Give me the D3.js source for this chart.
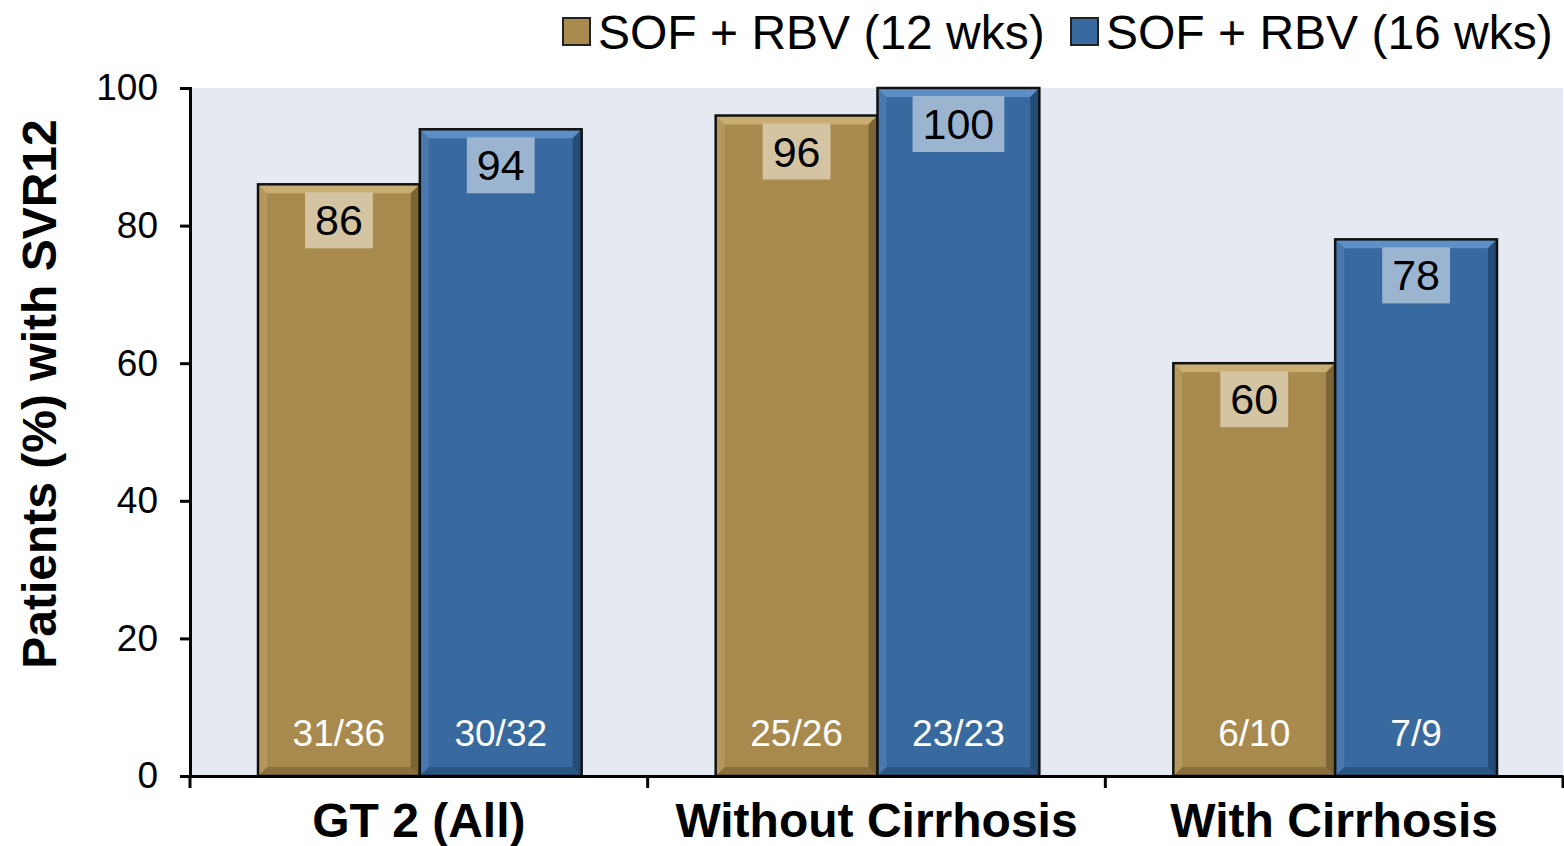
<!DOCTYPE html>
<html>
<head>
<meta charset="utf-8">
<script src="https://cdn.jsdelivr.net/npm/d3@7"></script>
<style>
  body { margin: 0; background: #fff; }
  text { font-family: "Liberation Sans", Arial, sans-serif; }
</style>
</head>
<body>
<svg id="chart" width="1564" height="846"></svg>
<script>
var categories = ["GT 2 (All)", "Without Cirrhosis", "With Cirrhosis"];
var seriesNames = ["SOF + RBV (12 wks)", "SOF + RBV (16 wks)"];
var svr12wk = [86, 96, 60];
var svr16wk = [94, 100, 78];
var n12wk = ["31/36", "25/26", "6/10"];
var n16wk = ["30/32", "23/23", "7/9"];
var yTicks = [0, 20, 40, 60, 80, 100];

var colors = ["#a88a4e", "#396a9f"];
var lightColors = ["#c9ad72", "#5e8fc6"];
var darkColors = ["#6f5a30", "#21446d"];
var boxColors = ["#d4c4a2", "#9bb4cf"];

var svg = d3.select("#chart"),
    margin = { top: 88, right: 1, bottom: 70, left: 190 },
    width = +svg.attr("width") - margin.left - margin.right,
    height = +svg.attr("height") - margin.top - margin.bottom,
    g = svg.append("g").attr("transform", "translate(" + margin.left + "," + margin.top + ")");

var data = categories.map(function (c, i) {
    return { cat: c, values: [
        { s: 0, v: svr12wk[i], n: n12wk[i] },
        { s: 1, v: svr16wk[i], n: n16wk[i] }
    ] };
});

var x0 = d3.scaleBand().domain(categories).range([0, width]).paddingInner(0).paddingOuter(0);
var x1 = d3.scaleBand().domain([0, 1]).range([68, x0.bandwidth() - 66]).padding(0);
var y = d3.scaleLinear().domain([0, 100]).range([height, 0]);

// plot background
g.append("rect")
    .attr("width", width)
    .attr("height", height)
    .attr("fill", "#e4e9f2");

// y axis
g.append("g")
    .call(d3.axisLeft(y).tickValues(yTicks).tickSize(10).tickPadding(22))
    .call(g => g.select(".domain").attr("stroke", "#000").attr("stroke-width", 3))
    .call(g => g.selectAll(".tick line").attr("stroke", "#000").attr("stroke-width", 3))
    .call(g => g.selectAll(".tick text")
        .attr("font-size", 37)
        .attr("fill", "#000")
        .attr("font-family", "Liberation Sans, Arial, sans-serif"));

// bars
var group = g.selectAll(".grp")
    .data(data)
    .enter().append("g")
    .attr("class", "grp")
    .attr("transform", d => "translate(" + x0(d.cat) + ",0)");

var bar = group.selectAll(".bar")
    .data(d => d.values)
    .enter().append("g")
    .attr("class", "bar");

var bv = 9; // bevel size

bar.each(function (d) {
    var b = d3.select(this);
    var x = x1(d.s), w = x1.bandwidth(), top = y(d.v), bot = y(0), h = bot - top;
    b.append("rect")
        .attr("x", x).attr("y", top).attr("width", w).attr("height", h)
        .attr("fill", colors[d.s]);
    // bevel facets
    b.append("polygon")
        .attr("points", [[x, top], [x + w, top], [x + w - bv, top + bv], [x + bv, top + bv]].join(" "))
        .attr("fill", lightColors[d.s]);
    b.append("polygon")
        .attr("points", [[x + w, top], [x + w, bot], [x + w - bv, bot - bv], [x + w - bv, top + bv]].join(" "))
        .attr("fill", darkColors[d.s]).attr("opacity", 0.8);
    b.append("polygon")
        .attr("points", [[x, bot], [x + w, bot], [x + w - bv, bot - bv], [x + bv, bot - bv]].join(" "))
        .attr("fill", darkColors[d.s]).attr("opacity", 0.55);
    b.append("polygon")
        .attr("points", [[x, top], [x + bv, top + bv], [x + bv, bot - bv], [x, bot]].join(" "))
        .attr("fill", lightColors[d.s]).attr("opacity", 0.4);
    b.append("rect")
        .attr("x", x).attr("y", top).attr("width", w).attr("height", h)
        .attr("fill", "none").attr("stroke", "#111").attr("stroke-width", 2.5);

    // value label box sized to the text
    var cx = x + w / 2;
    var boxG = b.append("g");
    var box = boxG.append("rect").attr("fill", boxColors[d.s]);
    var t = boxG.append("text")
        .attr("x", cx).attr("y", top + 36).attr("dy", "0.35em")
        .attr("text-anchor", "middle")
        .attr("font-size", 43)
        .attr("fill", "#000")
        .text(d.v);
    var tw = t.node().getComputedTextLength();
    box.attr("x", cx - tw / 2 - 10).attr("y", top + 8)
        .attr("width", tw + 20).attr("height", 56);

    // n label
    b.append("text")
        .attr("x", cx).attr("y", y(0) - 43).attr("dy", "0.35em")
        .attr("text-anchor", "middle")
        .attr("font-size", 37)
        .attr("fill", "#fff")
        .text(d.n);
});

// x axis
g.append("g")
    .attr("transform", "translate(0," + height + ")")
    .call(d3.axisBottom(x0).tickSize(0).tickPadding(27))
    .call(g => g.select(".domain").attr("stroke", "#000").attr("stroke-width", 3))
    .call(g => g.selectAll(".tick text")
        .attr("font-size", 48)
        .attr("font-weight", "bold")
        .attr("fill", "#000")
        .attr("font-family", "Liberation Sans, Arial, sans-serif"));

// category separator ticks
g.append("g")
    .selectAll("line")
    .data(categories.map(c => x0(c)).concat([width]))
    .enter().append("line")
    .attr("x1", d => d).attr("x2", d => d)
    .attr("y1", height).attr("y2", height + 12)
    .attr("stroke", "#000").attr("stroke-width", 3);

// y title
svg.append("text")
    .attr("transform", "translate(56,394) rotate(-90)")
    .attr("text-anchor", "middle")
    .attr("font-size", 48)
    .attr("font-weight", "bold")
    .attr("fill", "#000")
    .text("Patients (%) with SVR12");

// legend
var legendX = [563, 1071];
var legend = svg.selectAll(".legend")
    .data(seriesNames)
    .enter().append("g")
    .attr("class", "legend")
    .attr("transform", (d, i) => "translate(" + legendX[i] + ",18)");

legend.append("rect")
    .attr("width", 27).attr("height", 27)
    .attr("fill", (d, i) => colors[i])
    .attr("stroke", "#222").attr("stroke-width", 2);

legend.append("text")
    .attr("x", 35).attr("y", 14).attr("dy", "0.35em")
    .attr("font-size", 48)
    .attr("fill", "#000")
    .text(d => d);
</script>
</body>
</html>
